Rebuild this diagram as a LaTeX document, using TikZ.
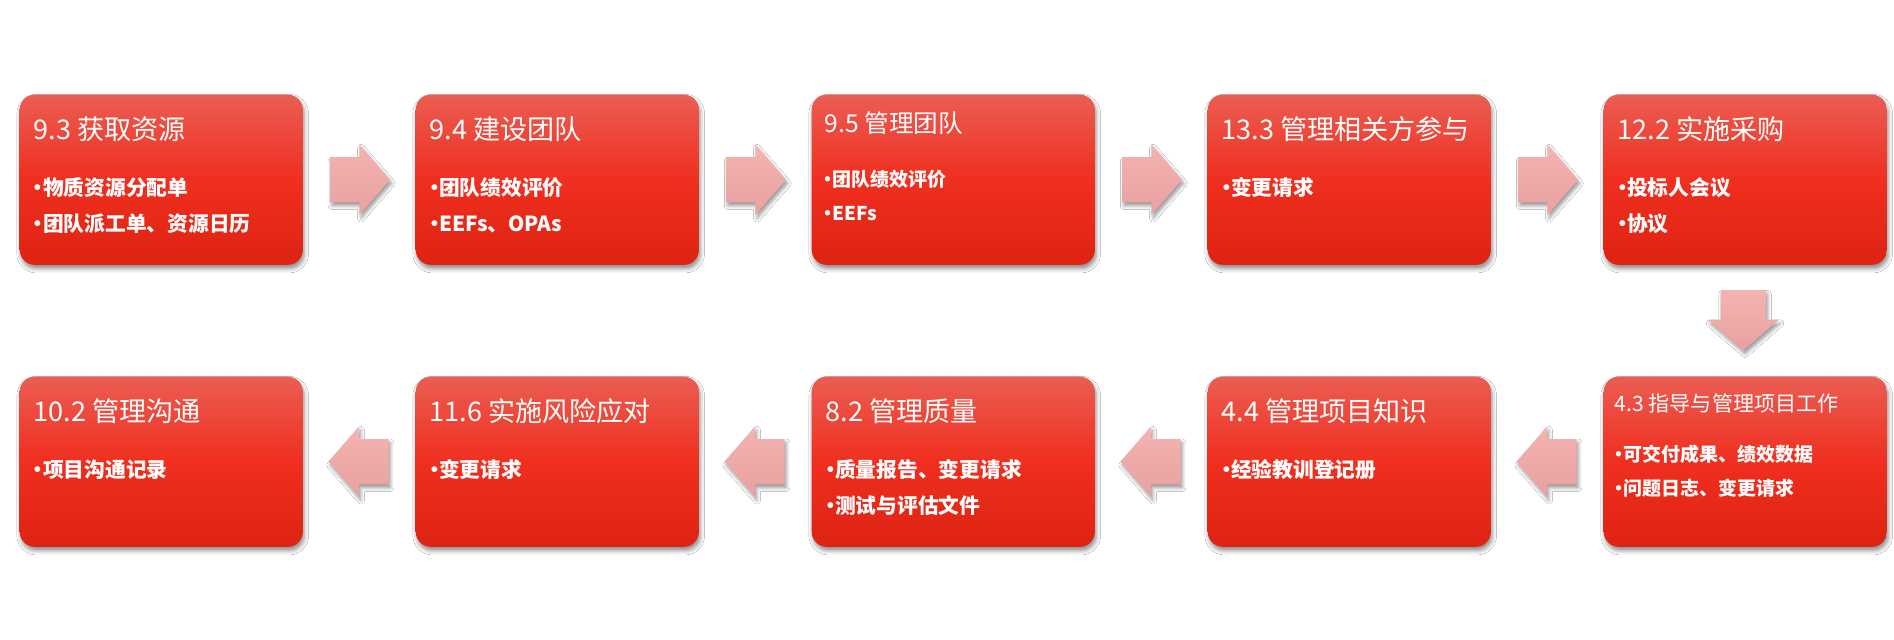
\documentclass[tikz,border=0pt]{standalone}
\usepackage{fontspec}
\setmainfont{Noto Sans CJK SC}
\usepackage{tikz}
\usetikzlibrary{shapes.arrows, shadows, shadows.blur, calc, positioning}

\definecolor{boxtop}{HTML}{EB5D52}
\definecolor{boxmid}{HTML}{EF2F1F}
\definecolor{boxbot}{HTML}{DE2312}
\definecolor{arrtop}{HTML}{F4B4B0}
\definecolor{arrbot}{HTML}{E8A0A0}

% half-width bullet
\newcommand{\bul}{\makebox[0.45em][c]{•}}

\begin{document}
\begin{tikzpicture}[x=0.01cm, y=-0.01cm,
        procbox/.style={rounded corners=0.15cm, minimum width=2.83cm, minimum height=1.70cm, anchor=north west,
            top color=boxtop, bottom color=boxbot, middle color=boxmid,
            blur shadow={shadow xshift=0.4pt, shadow yshift=-1.1pt, shadow blur radius=1.2pt, shadow opacity=45}},
        title/.style={anchor=base west, inner sep=0, text=white, font=\fontsize{7.7pt}{9pt}\selectfont},
        item/.style={anchor=west, inner sep=0, text=white, text height=0.85em, text depth=0.1em, font=\bfseries\fontsize{5.9pt}{7pt}\selectfont},
        blockarrow/.style={single arrow, anchor=tail, inner xsep=0, inner ysep=0.22cm, minimum height=0.60cm,
            single arrow head extend=0.125cm, single arrow tip angle=98,
            top color=arrtop, bottom color=arrbot,
            blur shadow={shadow xshift=0.5pt, shadow yshift=-1pt, shadow blur radius=1pt, shadow opacity=40}},
        downarrow/.style={blockarrow, shape border rotate=270, inner xsep=0.22cm, inner ysep=0},
        backarrow/.style={blockarrow, shape border rotate=180}
    ]
    \fill[white] (0,0) rectangle (1894,640);
    \useasboundingbox (0,0) rectangle (1894,640);

    % top row
    \node[procbox] (b1) at (19,94) {};
    \node[title] (b1t) at ([shift={(14,46)}]b1.north west) {9.3 获取资源};
    \node[item] (b1a) at ([shift={(14,88)}]b1.north west) {\bul 物质资源分配单};
    \node[item] (b1b) at ([shift={(14,124)}]b1.north west) {\bul 团队派工单、资源日历};

    \node[procbox] (b2) at (415,94) {};
    \node[title] (b2t) at ([shift={(14,46)}]b2.north west) {9.4 建设团队};
    \node[item] (b2a) at ([shift={(14,88)}]b2.north west) {\bul 团队绩效评价};
    \node[item] (b2b) at ([shift={(14,124)}]b2.north west) {\bul EEFs、OPAs};

    \node[procbox] (b3) at (811,94) {};
    \node[title, font=\fontsize{7pt}{8pt}\selectfont] (b3t) at ([shift={(13,39)}]b3.north west) {9.5 管理团队};
    \node[item, font=\bfseries\fontsize{5.4pt}{6.5pt}\selectfont] (b3a) at ([shift={(12,79)}]b3.north west) {\bul 团队绩效评价};
    \node[item, font=\bfseries\fontsize{5.4pt}{6.5pt}\selectfont] (b3b) at ([shift={(12,113)}]b3.north west) {\bul EEFs};

    \node[procbox] (b4) at (1207,94) {};
    \node[title] (b4t) at ([shift={(14,46)}]b4.north west) {13.3 管理相关方参与};
    \node[item] (b4a) at ([shift={(14,88)}]b4.north west) {\bul 变更请求};

    \node[procbox] (b5) at (1603,94) {};
    \node[title] (b5t) at ([shift={(14,46)}]b5.north west) {12.2 实施采购};
    \node[item] (b5a) at ([shift={(14,88)}]b5.north west) {\bul 投标人会议};
    \node[item] (b5b) at ([shift={(14,124)}]b5.north west) {\bul 协议};

    % bottom row
    \node[procbox] (b6) at (1603,376) {};
    \node[title, font=\fontsize{6pt}{7pt}\selectfont] (b6t) at ([shift={(11,36)}]b6.north west) {4.3 指导与管理项目工作};
    \node[item, font=\bfseries\fontsize{5.4pt}{6.5pt}\selectfont] (b6a) at ([shift={(11,72)}]b6.north west) {\bul 可交付成果、绩效数据};
    \node[item, font=\bfseries\fontsize{5.4pt}{6.5pt}\selectfont] (b6b) at ([shift={(11,106)}]b6.north west) {\bul 问题日志、变更请求};

    \node[procbox] (b7) at (1207,376) {};
    \node[title] (b7t) at ([shift={(14,46)}]b7.north west) {4.4 管理项目知识};
    \node[item] (b7a) at ([shift={(14,88)}]b7.north west) {\bul 经验教训登记册};

    \node[procbox] (b8) at (811,376) {};
    \node[title] (b8t) at ([shift={(14,46)}]b8.north west) {8.2 管理质量};
    \node[item] (b8a) at ([shift={(14,88)}]b8.north west) {\bul 质量报告、变更请求};
    \node[item] (b8b) at ([shift={(14,124)}]b8.north west) {\bul 测试与评估文件};

    \node[procbox] (b9) at (415,376) {};
    \node[title] (b9t) at ([shift={(14,46)}]b9.north west) {11.6 实施风险应对};
    \node[item] (b9a) at ([shift={(14,88)}]b9.north west) {\bul 变更请求};

    \node[procbox] (b10) at (19,376) {};
    \node[title] (b10t) at ([shift={(14,46)}]b10.north west) {10.2 管理沟通};
    \node[item] (b10a) at ([shift={(14,88)}]b10.north west) {\bul 项目沟通记录};

    % arrows, tail placed 30px before the gap's middle
    \node[blockarrow] (a1) at ($(b1.east)!0.5!(b2.west)+(-30,0)$) {};
    \node[blockarrow] (a2) at ($(b2.east)!0.5!(b3.west)+(-30,0)$) {};
    \node[blockarrow] (a3) at ($(b3.east)!0.5!(b4.west)+(-30,0)$) {};
    \node[blockarrow] (a4) at ($(b4.east)!0.5!(b5.west)+(-30,0)$) {};
    \node[downarrow] (a5) at ($(b5.south)!0.5!(b6.north)+(-2,-31)$) {};
    \node[backarrow] (a6) at ($(b6.west)!0.5!(b7.east)+(30,0)$) {};
    \node[backarrow] (a7) at ($(b7.west)!0.5!(b8.east)+(30,0)$) {};
    \node[backarrow] (a8) at ($(b8.west)!0.5!(b9.east)+(30,0)$) {};
    \node[backarrow] (a9) at ($(b9.west)!0.5!(b10.east)+(30,0)$) {};
\end{tikzpicture}
\end{document}
